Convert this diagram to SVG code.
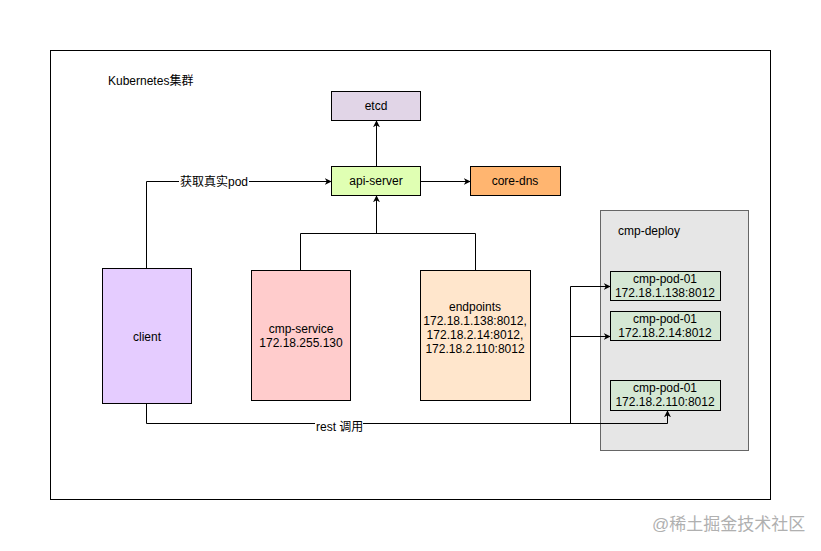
<svg xmlns="http://www.w3.org/2000/svg" width="821" height="551" viewBox="0 0 821 551">
<defs>
<marker id="arr" viewBox="0 0 10 10" refX="9" refY="5" markerWidth="7" markerHeight="7" orient="auto" markerUnits="userSpaceOnUse"><path d="M0,0 L10,5 L0,10 L3,5 Z" fill="#000"/></marker>
</defs>
<style>
text{font-family:"Liberation Sans","Noto Sans CJK SC",sans-serif;font-size:12px;fill:#000}
.c{text-anchor:middle}
.n{stroke:#000;stroke-width:1}
.e{fill:none;stroke:#000;stroke-width:1}
</style>
<rect width="821" height="551" fill="#fff"/>
<g id="cluster">
<rect x="50.5" y="50.5" width="720" height="449" fill="#fff" stroke="#000"/>
<text x="108" y="85">Kubernetes集群</text>
</g>
<g id="cmp-deploy">
<rect x="600.5" y="210.5" width="148" height="240" fill="#e6e6e6" stroke="#666"/>
<text x="618" y="235">cmp-deploy</text>
</g>
<g id="etcd"><rect class="n" x="331.5" y="91.5" width="89" height="29" fill="#e1d5e7"/><text class="c" x="376" y="110">etcd</text></g>
<g id="api-server"><rect class="n" x="331.5" y="166.5" width="89" height="29" fill="#e0ffb3"/><text class="c" x="376" y="185">api-server</text></g>
<g id="core-dns"><rect class="n" x="470.5" y="166.5" width="90" height="29" fill="#ffb570"/><text class="c" x="515" y="185">core-dns</text></g>
<g id="client"><rect class="n" x="102.5" y="268.5" width="89" height="135" fill="#e5ccff"/><text class="c" x="147" y="341">client</text></g>
<g id="cmp-service"><rect class="n" x="251.5" y="270.5" width="99" height="130" fill="#ffcccc"/><text class="c" x="301" y="333">cmp-service</text><text class="c" x="301" y="347">172.18.255.130</text></g>
<g id="endpoints"><rect class="n" x="420.5" y="270.5" width="110" height="130" fill="#ffe6cc"/><text class="c" x="475" y="311">endpoints</text><text class="c" x="475" y="325">172.18.1.138:8012,</text><text class="c" x="475" y="339">172.18.2.14:8012,</text><text class="c" x="475" y="353">172.18.2.110:8012</text></g>
<g id="pod1"><rect class="n" x="610.5" y="271.5" width="110" height="29" fill="#d5e8d4"/><text class="c" x="665" y="283">cmp-pod-01</text><text class="c" x="665" y="297">172.18.1.138:8012</text></g>
<g id="pod2"><rect class="n" x="610.5" y="311.5" width="110" height="29" fill="#d5e8d4"/><text class="c" x="665" y="323">cmp-pod-01</text><text class="c" x="665" y="337">172.18.2.14:8012</text></g>
<g id="pod3"><rect class="n" x="610.5" y="380.5" width="110" height="30" fill="#d5e8d4"/><text class="c" x="665" y="392">cmp-pod-01</text><text class="c" x="665" y="406">172.18.2.110:8012</text></g>
<g id="connectors">
<path class="e" d="M376.5,166 V121" marker-end="url(#arr)"/>
<path class="e" d="M421,181.5 H470" marker-end="url(#arr)"/>
<path class="e" d="M146.5,268 V181.5 H331" marker-end="url(#arr)"/>
<path class="e" d="M300.5,270 V233.5 H475.5 V270"/>
<path class="e" d="M376.5,233.5 V196" marker-end="url(#arr)"/>
<path class="e" d="M146.5,403 V423.5 H667.5 V411" marker-end="url(#arr)"/>
<path class="e" d="M570.5,423.5 V286.5 H610" marker-end="url(#arr)"/>
<path class="e" d="M570.5,336.5 H610" marker-end="url(#arr)"/>
<rect x="179" y="174" width="70" height="15" fill="#fff"/>
<text x="180" y="186">获取真实pod</text>
<rect x="315" y="420" width="48" height="14" fill="#fff"/>
<text x="316" y="431">rest 调用</text>
</g>
<text x="652" y="530" style="font-size:17px;fill:#b0b0b0">@稀土掘金技术社区</text>
</svg>
